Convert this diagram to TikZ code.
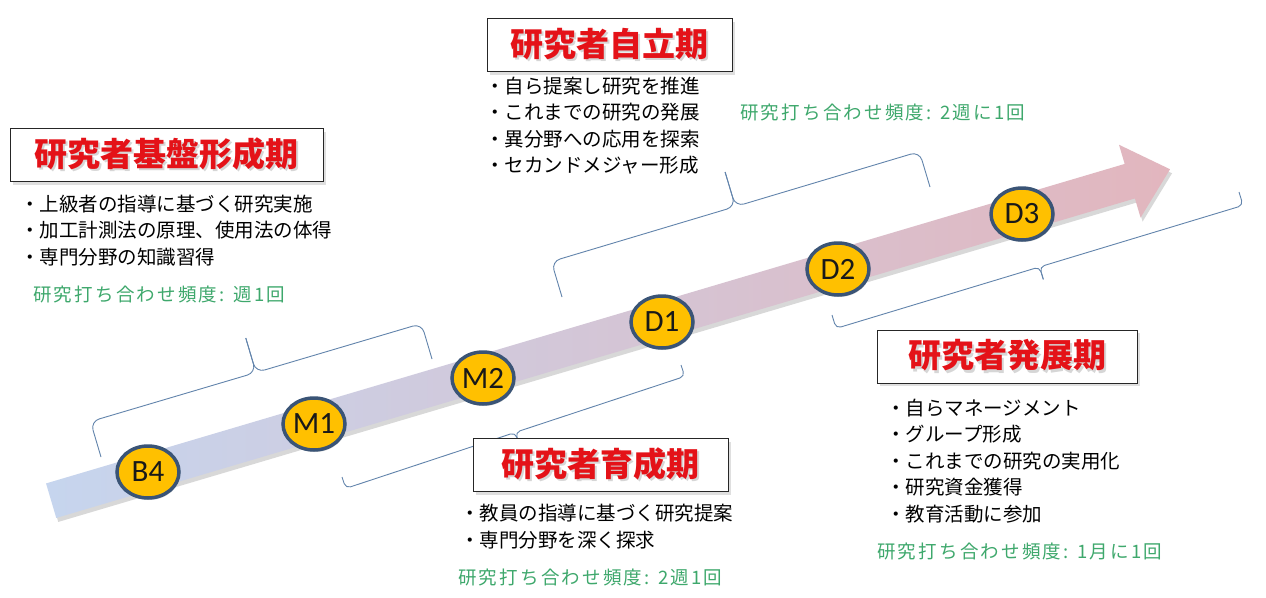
\documentclass[tikz,border=0pt]{standalone}
\usepackage{fontspec}
\setmainfont{Noto Sans CJK JP}
\newfontfamily\latinfont{Carlito}
\newfontfamily\freqfont[LetterSpace=12]{Noto Sans CJK JP}
\usetikzlibrary{calc,shadows,shapes.geometric}
\definecolor{arrowL}{RGB}{198,213,238}
\definecolor{arrowR}{RGB}{226,182,190}
\definecolor{gold}{RGB}{255,192,0}
\definecolor{ringc}{RGB}{58,84,118}
\definecolor{bracec}{RGB}{98,132,172}
\definecolor{titlered}{RGB}{228,18,24}
\definecolor{freqgreen}{RGB}{62,168,108}
\tikzset{
  stage/.style={ellipse, draw=ringc, line width=3.5pt, fill=gold, minimum width=62pt, minimum height=52pt, inner sep=0pt,
    font=\latinfont\fontsize{31}{31}\selectfont, text=black!90, drop shadow={opacity=0.3, shadow xshift=1pt, shadow yshift=-2pt}},
  titlebox/.style={draw=black!85, line width=1pt, fill=white, minimum height=53pt, inner sep=0pt, text=titlered,
    font=\bfseries\fontsize{33}{33}\selectfont, drop shadow={opacity=0.25, shadow xshift=3pt, shadow yshift=-3pt}},
  item/.style={anchor=west, inner sep=0pt, text height=17pt, text depth=2.5pt, font=\fontsize{19.5}{19.5}\selectfont},
  freq/.style={anchor=west, inner sep=0pt, text height=16pt, text depth=2.5pt, text=freqgreen, font=\freqfont\fontsize{18.5}{18.5}\selectfont},
  brc/.style={draw=bracec, line width=0.9pt}
}
\newcommand{\shtext}[1]{\rlap{\kern2pt\raisebox{-2.5pt}{\textcolor{black!16}{#1}}}#1}
% #1 foot A, #2 foot B, #3 foot length, #4 tip length, #5 angle, #6 opposite angle, #7 corner radius
\newcommand{\pbrace}[7]{%
  \coordinate (bP) at ($(#1)!#3pt!#5:(#2)$);
  \coordinate (bQ) at ($(#2)!#3pt!#6:(#1)$);
  \coordinate (bM) at ($(bP)!0.5!(bQ)$);
  \coordinate (bT) at ($(bM)!#4pt!#5:(bQ)$);
  \draw[brc, rounded corners=#7] (#1) -- (bP) -- (bM) -- (bT);
  \draw[brc, rounded corners=#7] (bT) -- (bM) -- (bQ) -- (#2);
}
\begin{document}
\begin{tikzpicture}[x=1pt, y=-1pt]
\useasboundingbox (0,0) rectangle (1266,597);
\fill[white] (0,0) rectangle (1266,597);

% main arrow
\begin{scope}[shift={(148,472)}, rotate=16.5]
  \shade[left color=arrowL, middle color=arrowL!72!arrowR, right color=arrowR, drop shadow={opacity=0.3, shadow xshift=2pt, shadow yshift=-4pt}]
    (-101,-18) -- (1024,-18) -- (1024,-38) -- (1066,0) -- (1024,38) -- (1024,18) -- (-101,18) -- cycle;
\end{scope}

% braces
\pbrace{101,457}{432,359}{37}{36}{90}{-90}{9pt}
\pbrace{342,477}{681,365}{12}{13}{-90}{90}{5pt}
\pbrace{562,297}{930,187}{37}{36}{90}{-90}{9pt}
\pbrace{832,315}{1239,192}{14}{13}{-90}{90}{5pt}

% stages
\node[stage] (b4) at (148,472) {B4};
\node[stage] (m1) at (314,424) {M1};
\node[stage] (m2) at (483,378) {M2};
\node[stage] (d1) at (662,322) {D1};
\node[stage] (d2) at (838,269) {D2};
\node[stage] (d3) at (1022,214) {D3};

% titles
\node[titlebox, minimum width=313pt] (t1) at (166.5,155) {\shtext{研究者基盤形成期}};
\node[titlebox, minimum width=245pt] (t2) at (609.5,45) {\shtext{研究者自立期}};
\node[titlebox, minimum width=255pt] (t3) at (600.5,465) {\shtext{研究者育成期}};
\node[titlebox, minimum width=260pt] (t4) at (1007,356.5) {\shtext{研究者発展期}};

% list 1
\node[item] (a1) at (20,204) {・上級者の指導に基づく研究実施};
\node[item] (a2) at (20,230.5) {・加工計測法の原理、使用法の体得};
\node[item] (a3) at (20,257) {・専門分野の知識習得};
\node[freq] (f1) at (33,295) {研究打ち合わせ頻度: 週1回};

% list 2
\node[item] (c1) at (485,86) {・自ら提案し研究を推進};
\node[item] (c2) at (485,112.5) {・これまでの研究の発展};
\node[item] (c3) at (485,139) {・異分野への応用を探索};
\node[item] (c4) at (485,165.5) {・セカンドメジャー形成};
\node[freq] (f2) at (740,113) {研究打ち合わせ頻度: 2週に1回};

% list 3
\node[item] (e1) at (460,513) {・教員の指導に基づく研究提案};
\node[item] (e2) at (460,540) {・専門分野を深く探求};
\node[freq] (f3) at (458,578) {研究打ち合わせ頻度: 2週1回};

% list 4
\node[item] (g1) at (886,408) {・自らマネージメント};
\node[item] (g2) at (886,434.5) {・グループ形成};
\node[item] (g3) at (886,461) {・これまでの研究の実用化};
\node[item] (g4) at (886,487.5) {・研究資金獲得};
\node[item] (g5) at (886,514) {・教育活動に参加};
\node[freq] (f4) at (877,552) {研究打ち合わせ頻度: 1月に1回};
\end{tikzpicture}
\end{document}
